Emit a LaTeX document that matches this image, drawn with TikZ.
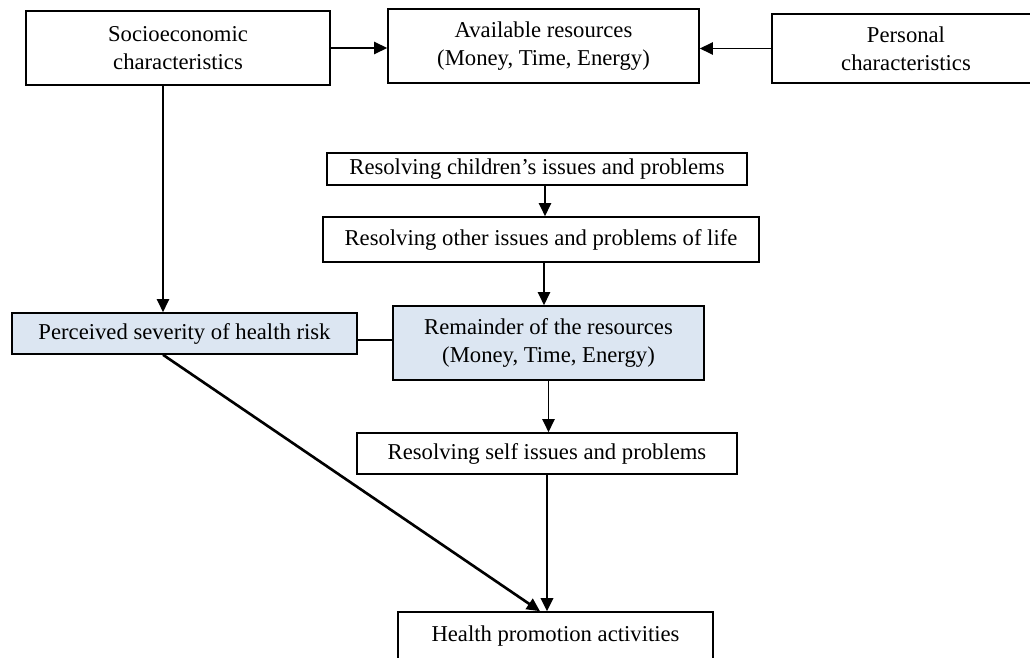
\documentclass[tikz,border=0pt]{standalone}
\usepackage{fontspec}
\setmainfont{Liberation Serif}
\usetikzlibrary{arrows.meta}
\definecolor{boxblue}{HTML}{DCE6F2}
\begin{document}
\begin{tikzpicture}[
	x=0.02cm, y=-0.02cm,
	>={Triangle[length=7.5pt,width=7pt]},
	every node/.style={ font=\fontsize{12.9}{16}\selectfont, align=center },
	box/.style={ draw, line width=0.9pt, inner sep=2pt },
	boxb/.style={ box, fill=boxblue },
	link/.style={ line width=0.9pt },
	linkb/.style={ line width=1.5pt }
]
\useasboundingbox (0,0) rectangle (1030,658);
\clip (0,0) rectangle (1030,658);

\node at (178,48) (socio) [box, minimum width=6.08cm, minimum height=1.48cm] {Socioeconomic\\characteristics};
\node at (543.5,46) (avail) [box, minimum width=6.22cm, minimum height=1.48cm] {Available resources\\(Money, Time, Energy)};
\node at (906,48.5) (pers) [box, minimum width=5.36cm, minimum height=1.38cm] {Personal\\characteristics};
\draw[->,link] (socio.east) -- (socio.east -| avail.west);
\draw[->,link] (pers.west) -- (pers.west -| avail.east);

\node at (537,169) (kids) [box, minimum width=8.4cm, minimum height=0.64cm] {Resolving children’s issues and problems};
\node at (541,239.5) (other) [box, minimum width=8.72cm, minimum height=0.9cm] {Resolving other issues and problems of life};
\draw[->,link] ([xshift=0.16cm]kids.south) -- ([xshift=0.16cm]kids.south |- other.north);

\node at (184.5,333.5) (perc) [boxb, minimum width=6.9cm, minimum height=0.82cm] {Perceived severity of health risk};
\node at (548.5,343) (rem) [boxb, minimum width=6.22cm, minimum height=1.48cm] {Remainder of the resources\\(Money, Time, Energy)};
\draw[->,link] ([xshift=-0.3cm]socio.south) -- ([xshift=-0.3cm]socio.south |- perc.north);
\draw[->,link] ([xshift=0.06cm]other.south) -- ([xshift=0.06cm]other.south |- rem.north);
\draw[link] ([yshift=-0.13cm]perc.east) -- ([yshift=-0.13cm]perc.east -| rem.west);

\node at (547,453.5) (self) [box, minimum width=7.6cm, minimum height=0.82cm] {Resolving self issues and problems};
\draw[->,link] (rem.south) -- (rem.south |- self.north);

\node at (555.5,636) (health) [box, minimum width=6.3cm, minimum height=0.96cm] {Health promotion activities};
\draw[->,linkb] (self.south) -- (self.south |- health.north);
\draw[->,linkb] ([xshift=-0.43cm]perc.south) -- ([xshift=-0.31cm]health.north);

\end{tikzpicture}
\end{document}
